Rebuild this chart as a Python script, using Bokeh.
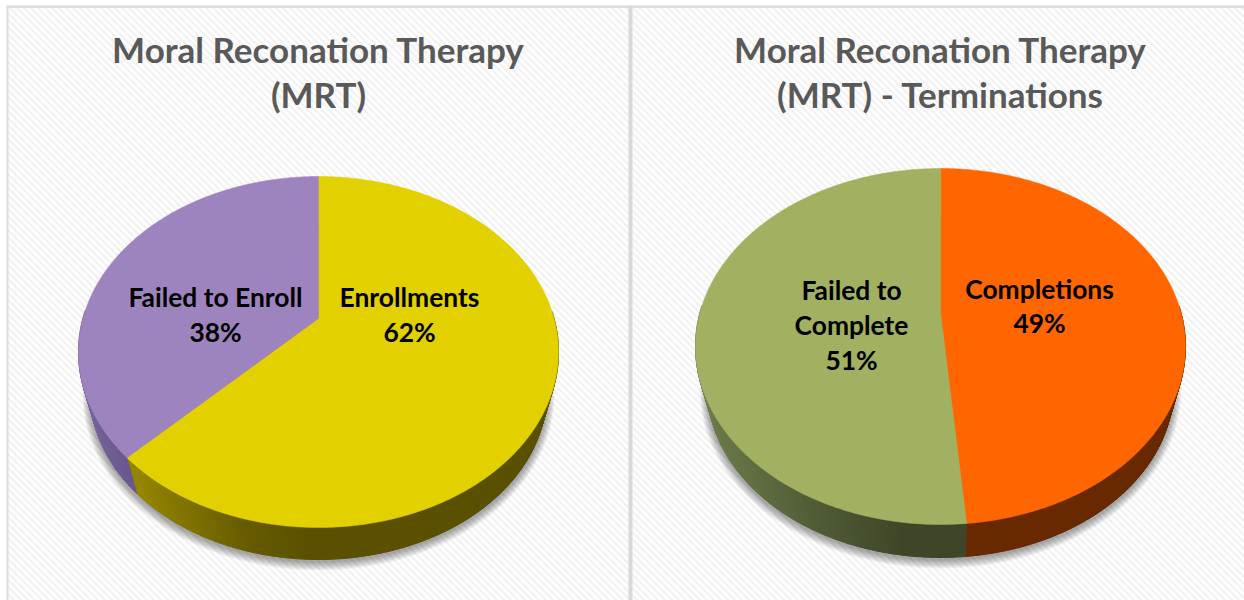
import math
from bokeh.plotting import figure
from bokeh.models import Range1d
from bokeh.core.properties import value
from bokeh.embed import file_html
from bokeh.resources import INLINE

# ---- data ----
left_title = ["Moral Reconation Therapy", "(MRT)"]
left_categories = ["Enrollments", "Failed to Enroll"]
left_values = [62.4, 37.6]
right_title = ["Moral Reconation Therapy", "(MRT) - Terminations"]
right_categories = ["Completions", "Failed to\nComplete"]
right_values = [48.6, 51.4]

# ---- styling ----
W, H = 1244, 600
TOP = {"Enrollments": "#e2d000", "Failed to Enroll": "#9e84bf",
       "Completions": "#ff6600", "Failed to\nComplete": "#a2b061"}
RIM = {"Enrollments": [(135, "#948500"), (240, "#685c00"), (310, "#5a5000"), (560, "#5a5000")],
       "Failed to Enroll": [(78, "#77659c"), (135, "#65558a")],
       "Completions": [(940, "#692900"), (1190, "#692900")],
       "Failed to\nComplete": [(700, "#6c7c4c"), (800, "#535f38"), (900, "#3e4627"), (970, "#3e4627")]}
FONT = value("Lato")
TAPER = 0.95


def hex2rgb(h):
    return tuple(int(h[i:i + 2], 16) for i in (1, 3, 5))


def ramp(stops, x):
    if x <= stops[0][0]:
        return stops[0][1]
    for (x0, c0), (x1, c1) in zip(stops, stops[1:]):
        if x <= x1:
            f = (x - x0) / (x1 - x0)
            a, b = hex2rgb(c0), hex2rgb(c1)
            return "#%02x%02x%02x" % tuple(round(p + (q - p) * f) for p, q in zip(a, b))
    return stops[-1][1]


p = figure(width=W, height=H, output_backend="svg", toolbar_location=None,
           x_range=Range1d(0, W), y_range=Range1d(H, 0),
           x_axis_type=None, y_axis_type=None, min_border=0,
           outline_line_color=None, background_fill_color="white")
p.grid.visible = False
p.styles = {"position": "absolute", "left": "0px", "top": "0px"}

# diagonal hatch of the panels
step = 7
xs, ys = [], []
for c in range(-H, W + step, step):
    xs.append([c, c + H])
    ys.append([0, H])
p.multi_line(xs, ys, line_color="#f3f3f3", line_width=2.6)

# blank margins and panel frame
p.quad(left=0, right=W, top=0, bottom=5, fill_color="white", line_color=None)
p.quad(left=0, right=6, top=0, bottom=H, fill_color="white", line_color=None)
p.quad(left=6, right=W, top=5, bottom=7.5, fill_color="#dcdcdc", line_color=None)
p.quad(left=6, right=8, top=5, bottom=H, fill_color="#dcdcdc", line_color=None)
p.quad(left=628, right=632, top=5, bottom=H, fill_color="#d9d9d9", line_color=None)


def pie(cats, vals, title, cx, apex_y, top_y, bottom_y, rx, depth):
    up, down = apex_y - top_y, bottom_y - apex_y
    k = (down - up) / (down + up)
    a = down * (1 - k)
    b = rx * math.sqrt(1 - k * k)

    def pt(theta):
        u, v = math.sin(theta), -math.cos(theta)
        d = 1 - k * v
        return cx + b * u / d, apex_y + a * v / d

    cy = (top_y + bottom_y) / 2
    ry = (bottom_y - top_y) / 2
    shift = depth + ry * (1 - TAPER)

    def lower(x, y):
        return cx + (x - cx) * TAPER, cy + shift + (y - cy) * TAPER

    # soft shadow under the lower rim
    for e in range(9, 0, -1):
        n = 120
        sx = [cx + (rx * TAPER + e * 0.9) * math.cos(2 * math.pi * i / n) for i in range(n)]
        sy = [cy + shift + 2 + (ry * TAPER + e) * math.sin(2 * math.pi * i / n) for i in range(n)]
        p.patch(sx, sy, fill_color="#000000", fill_alpha=0.045, line_color=None)

    # slices run clockwise from twelve o'clock
    total = sum(vals)
    start = 0.0
    rim_x, rim_y, rim_c = [], [], []
    faces = []
    for cat, val in zip(cats, vals):
        sweep = val / total * 2 * math.pi
        steps = max(4, int(val * 6))
        th = [start + sweep * i / steps for i in range(steps + 1)]
        pts = [pt(t) for t in th]
        for (x0, y0), (x1, y1) in zip(pts, pts[1:]):
            if y0 > cy - 40 or y1 > cy - 40:
                lx0, ly0 = lower(x0, y0)
                lx1, ly1 = lower(x1, y1)
                rim_x.append([x0, x1, lx1, lx0])
                rim_y.append([y0, y1, ly1, ly0])
                rim_c.append(ramp(RIM[cat], (x0 + x1) / 2))
        faces.append(([cx] + [q[0] for q in pts], [apex_y] + [q[1] for q in pts], TOP[cat]))
        start += sweep
    p.patches(rim_x, rim_y, fill_color=rim_c, line_color=rim_c, line_width=1)
    for fx, fy, col in faces:
        p.patch(fx, fy, fill_color=col, line_color=col, line_width=0.5)

    # title
    for i, line in enumerate(title):
        p.text([cx], [48.5 + 45 * i], text=[line], text_font=FONT, text_font_style="bold",
               text_font_size="35px", text_color="#595959",
               text_align="center", text_baseline="middle")


pie(left_categories, left_values, left_title, 318, 318, 176, 527, 240, 32)
pie(right_categories, right_values, right_title, 940, 312, 168, 524, 245, 33)


def label(cat, val, x, y, gap=35):
    lines = cat.split("\n") + ["%d%%" % round(val)]
    for i, line in enumerate(lines):
        p.text([x], [y + gap * i], text=[line], text_font=FONT, text_font_style="bold",
               text_font_size="26.4px", text_color="#000000",
               text_align="center", text_baseline="middle")


label(left_categories[0], left_values[0], 409, 296)
label(left_categories[1], left_values[1], 215, 296)
label(right_categories[0], right_values[0], 1039, 288, 34)
label(right_categories[1], right_values[1], 851, 289)

open("out.html", "w").write(file_html(p, INLINE))
